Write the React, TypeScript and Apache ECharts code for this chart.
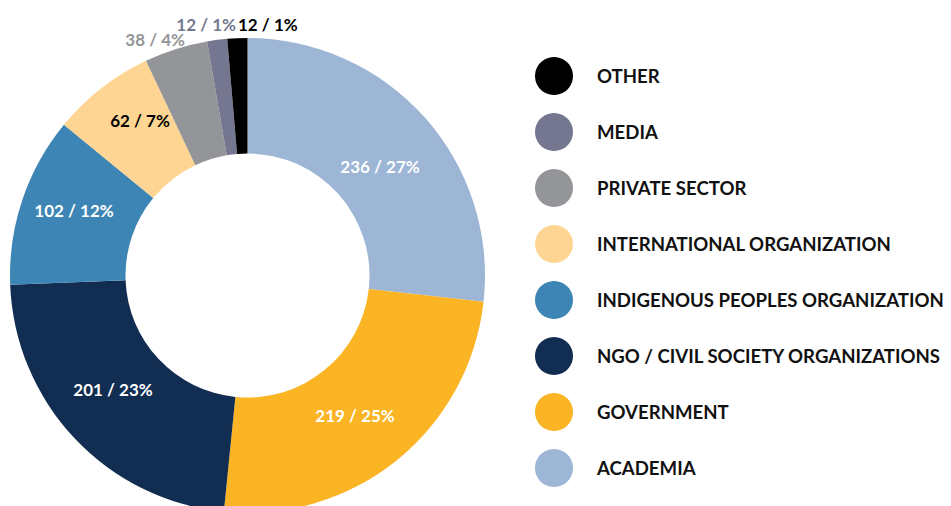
import React, { useEffect, useRef } from "react";
import * as echarts from "echarts";

const categories = [
  "ACADEMIA",
  "GOVERNMENT",
  "NGO / CIVIL SOCIETY ORGANIZATIONS",
  "INDIGENOUS PEOPLES ORGANIZATION",
  "INTERNATIONAL ORGANIZATION",
  "PRIVATE SECTOR",
  "MEDIA",
  "OTHER",
];
const values = [236, 219, 201, 102, 62, 38, 12, 12];
const legendOrder = [
  "OTHER",
  "MEDIA",
  "PRIVATE SECTOR",
  "INTERNATIONAL ORGANIZATION",
  "INDIGENOUS PEOPLES ORGANIZATION",
  "NGO / CIVIL SOCIETY ORGANIZATIONS",
  "GOVERNMENT",
  "ACADEMIA",
];

const colors = ["#9db6d6", "#fbb424", "#122d52", "#3d85b5", "#fed592", "#939598", "#74778f", "#000000"];
const labelColors = ["#ffffff", "#ffffff", "#ffffff", "#ffffff", "#000000", "#939598", "#74778f", "#000000"];
// label anchor positions (px) and alignment, styling only
const labelPos: [number, number, string][] = [
  [380, 166, "center"],
  [355, 415, "center"],
  [113, 389, "center"],
  [74, 210, "center"],
  [140, 120, "center"],
  [185, 39, "right"],
  [236, 24, "right"],
  [238, 24, "left"],
];

export default function App() {
  const ref = useRef<HTMLDivElement>(null);
  useEffect(() => {
    if (!ref.current) return;
    const chart = echarts.init(ref.current, null, { renderer: "svg" });
    chart.setOption({
      animation: false,
      color: colors,
      legend: {
        orient: "vertical",
        left: 530,
        top: 52,
        icon: "circle",
        itemWidth: 38,
        itemHeight: 38,
        itemGap: 18,
        data: legendOrder,
        selectedMode: false,
        textStyle: {
          fontFamily: "Lato",
          fontWeight: "bold",
          fontSize: 18.6,
          color: "#111111",
          padding: [0, 0, 0, 19],
        },
      },
      series: [
        {
          type: "pie",
          center: [247.5, 275.5],
          radius: [122, 237.5],
          startAngle: 90,
          clockwise: true,
          avoidLabelOverlap: false,
          emphasis: { disabled: true },
          label: {
            show: true,
            position: "inside",
            fontFamily: "Lato",
            fontWeight: "bold",
            fontSize: 17,
            formatter: (p: any) => `${p.value} / ${Math.round(p.percent)}%`,
          },
          labelLine: { show: false },
          labelLayout: (p: any) => ({
            x: labelPos[p.dataIndex][0],
            y: labelPos[p.dataIndex][1],
            align: labelPos[p.dataIndex][2],
            verticalAlign: "middle",
          }),
          data: categories.map((name, i) => ({
            name,
            value: values[i],
            label: { color: labelColors[i] },
          })),
        },
      ],
    });
    return () => chart.dispose();
  }, []);
  return (
    <div
      ref={ref}
      style={{ position: "fixed", left: 0, top: 0, width: 951, height: 506, background: "#fff" }}
    />
  );
}
